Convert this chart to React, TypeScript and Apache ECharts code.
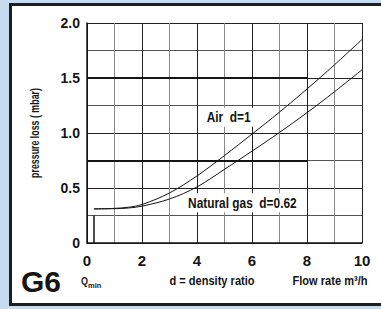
import React, { useEffect, useRef } from "react";
import * as echarts from "echarts";

const flowRates = [0.25, 1, 1.5, 2, 3, 4, 5, 6, 7, 8, 9, 10];
const airLoss = [0.31, 0.315, 0.325, 0.35, 0.455, 0.61, 0.795, 0.99, 1.19, 1.4, 1.62, 1.85];
const gasLoss = [0.31, 0.312, 0.318, 0.335, 0.4, 0.51, 0.67, 0.835, 1.005, 1.185, 1.375, 1.575];
const limitLevels = [0.75, 1.5];
const limitFlowMax = 8;
const qMin = 0.25;
const airLabelAt = [5.15, 1.144];
const gasLabelAt = [5.65, 0.366];

const SANS = '"Liberation Sans", Arial, Helvetica, sans-serif';
const INK = "#151515";
const NARROW_SCALE = 0.82;

export default function App() {
  const ref = useRef<HTMLDivElement>(null);
  useEffect(() => {
    if (!ref.current) return;
    const chart = echarts.init(ref.current, undefined, { renderer: "svg" });
    const pairs = (ys: number[]) => flowRates.map((x, i) => [x, ys[i]]);
    const narrowText = (
      text: string,
      x: number,
      y: number,
      size: number,
      extra: Record<string, unknown> = {},
      scale = NARROW_SCALE
    ) => ({
      type: "text",
      x,
      y,
      scaleX: scale,
      style: {
        text,
        fill: INK,
        font: `bold ${size}px ${SANS}`,
        align: "center",
        verticalAlign: "middle",
        ...extra,
      },
    });
    chart.setOption({
      animation: false,
      backgroundColor: "transparent",
      grid: { left: 87, right: 19, top: 23, bottom: 66 },
      xAxis: {
        type: "value",
        min: 0,
        max: 10,
        interval: 2,
        axisLine: { show: true, onZero: false, lineStyle: { color: INK, width: 1.5 } },
        axisTick: { show: false },
        axisLabel: {
          margin: 10,
          color: INK,
          fontFamily: SANS,
          fontWeight: "bold",
          fontSize: 15,
        },
        splitLine: { show: true, lineStyle: { color: "#222", width: 1 } },
        minorTick: { show: false, splitNumber: 2 },
        minorSplitLine: { show: true, lineStyle: { color: "#8a8a8a", width: 1 } },
      },
      yAxis: {
        type: "value",
        min: 0,
        max: 2,
        interval: 0.5,
        axisLine: { show: true, onZero: false, lineStyle: { color: INK, width: 1.5 } },
        axisTick: { show: false },
        axisLabel: {
          margin: 7,
          color: INK,
          fontFamily: SANS,
          fontWeight: "bold",
          fontSize: 14,
          formatter: (v: number) => (v === 0 ? "0" : v.toFixed(1)),
        },
        splitLine: { show: true, lineStyle: { color: "#222", width: 1 } },
        minorTick: { show: false, splitNumber: 2 },
        minorSplitLine: { show: true, lineStyle: { color: "#555", width: 1 } },
      },
      series: [
        {
          name: "Air d=1",
          type: "line",
          data: pairs(airLoss),
          smooth: 0.35,
          showSymbol: false,
          lineStyle: { color: INK, width: 1 },
          markLine: {
            silent: true,
            symbol: "none",
            label: { show: false },
            lineStyle: { color: INK, width: 2, type: "solid" },
            data: [
              ...limitLevels.map((lv) => [
                { coord: [0, lv] },
                { coord: [limitFlowMax, lv] },
              ]),
              [
                { coord: [qMin, 0], lineStyle: { width: 1.5 } },
                { coord: [qMin, 0.25] },
              ],
            ],
          },
        },
        {
          name: "Natural gas d=0.62",
          type: "line",
          data: pairs(gasLoss),
          smooth: 0.35,
          showSymbol: false,
          lineStyle: { color: INK, width: 1 },
        },
      ],
    });

    const airPx = chart.convertToPixel({ gridIndex: 0 }, airLabelAt) as number[];
    const gasPx = chart.convertToPixel({ gridIndex: 0 }, gasLabelAt) as number[];

    chart.setOption({
      graphic: [
        narrowText("Air  d=1", airPx[0], airPx[1], 14.5, {
          backgroundColor: "#fff",
          padding: [2, 3],
        }),
        narrowText("Natural gas  d=0.62", gasPx[0], gasPx[1], 14.5, {
          backgroundColor: "#fff",
          padding: [2, 3],
        }),
        {
          type: "text",
          x: 34,
          y: 133,
          rotation: Math.PI / 2,
          scaleX: 0.68,
          style: {
            text: "pressure loss ( mbar)",
            fill: INK,
            font: `bold 13px ${SANS}`,
            align: "center",
            verticalAlign: "middle",
          },
        },
        {
          type: "text",
          x: 21,
          y: 281,
          style: {
            text: "G6",
            fill: INK,
            font: `bold 30px ${SANS}`,
            align: "left",
            verticalAlign: "middle",
          },
        },
        narrowText("Q", 81, 281.5, 11, { align: "left" }),
        narrowText("min", 88, 285, 7.5, { align: "left" }, 1),
        narrowText("d = density ratio", 212, 281, 13.5),
        narrowText("Flow rate m³/h", 330, 281, 13.5),
      ],
    });
    return () => chart.dispose();
  }, []);

  return (
    <div
      style={{
        position: "fixed",
        left: 0,
        top: 0,
        width: 381,
        height: 309,
        background: "#c6daf0",
        overflow: "hidden",
      }}
    >
      <div
        style={{
          position: "absolute",
          left: 9,
          top: 3,
          width: 420,
          height: 303,
          boxSizing: "border-box",
          border: "3px solid #1e1e1e",
          background: "#fff",
        }}
      />
      <div ref={ref} style={{ position: "absolute", left: 0, top: 0, width: 381, height: 309 }} />
    </div>
  );
}
